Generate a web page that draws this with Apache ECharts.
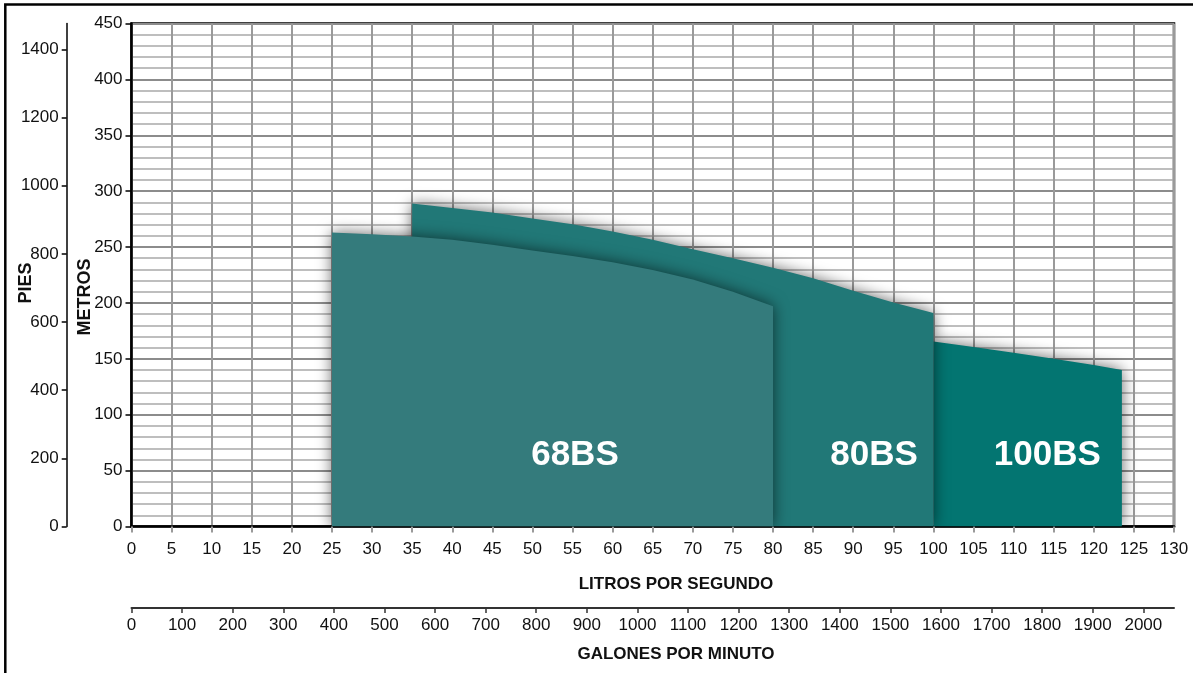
<!DOCTYPE html>
<html><head><meta charset="utf-8">
<script src="https://cdn.jsdelivr.net/npm/echarts@6/dist/echarts.min.js"></script>
<style>html,body{margin:0;padding:0;background:#fff}#c{width:1193px;height:673px}</style>
</head><body><div id="c"></div>
<script>
// ---- data ----
const flowLps68 = [25, 30, 35, 40, 45, 50, 55, 60, 65, 70, 75, 80];
const head68    = [263, 261.5, 259.5, 256.5, 252, 247, 242, 236.5, 229.5, 221, 210, 197];
const flowLps80 = [35, 40, 45, 50, 55, 60, 65, 70, 75, 80, 85, 90, 95, 100];
const head80    = [289, 285, 281, 275.5, 270.5, 264, 256.5, 248, 240, 231.5, 222, 211, 200.5, 191];
const flowLps100 = [100, 105, 110, 115, 120, 123.5];
const head100    = [165.5, 160.5, 155.5, 150, 144.5, 140];
const modelNames = ['68BS', '80BS', '100BS'];
const modelLabelFlow = [55.3, 92.6, 114.2];
const modelLabelHead = [64, 64, 64];
const feetTicks = [0, 200, 400, 600, 800, 1000, 1200, 1400];
const gpmTicks = [0,100,200,300,400,500,600,700,800,900,1000,1100,1200,1300,1400,1500,1600,1700,1800,1900,2000];
const M_TO_FT = 3.28084, LPS_TO_GPM = 15.8503;
const LPS_MAX = 130, M_MAX = 450;

const FONT = "'Liberation Sans',Arial,sans-serif";
const zip = (xs, ys) => xs.map((x, i) => [x, ys[i]]);
const plain = v => String(v);

const chart = echarts.init(document.getElementById('c'));
function areaSeries(name, xs, ys, color) {
  return {
    name, type: 'line', data: zip(xs, ys), showSymbol: false, smooth: false,
    lineStyle: { width: 0, opacity: 0 },
    areaStyle: { color, opacity: 1, shadowBlur: 15, shadowColor: 'rgba(0,0,0,0.6)' },
    silent: true, animation: false
  };
}
const tickLabel = { fontFamily: FONT, fontSize: 17, color: '#111', formatter: plain };
chart.setOption({
  animation: false,
  grid: { left: 131.5, right: 19, top: 23.5, bottom: 146.5, show: true, borderColor: '#000', borderWidth: 2.5, backgroundColor: 'transparent' },
  xAxis: [
    { type: 'value', min: 0, max: LPS_MAX, interval: 5, position: 'bottom',
      axisLine: { show: true, onZero: false, lineStyle: { color: '#000', width: 2.5 } },
      axisTick: { show: true, length: 6, lineStyle: { color: '#9a9a9a', width: 2 } },
      axisLabel: Object.assign({}, tickLabel, { margin: 14 }),
      splitLine: { show: true, lineStyle: { color: '#9a9a9a', width: 2 } } },
    { type: 'value', min: 0, max: LPS_MAX * LPS_TO_GPM, position: 'bottom', offset: 81.5,
      axisLine: { show: true, onZero: false, lineStyle: { color: '#333', width: 2 } },
      axisTick: { show: true, length: 5, customValues: gpmTicks, lineStyle: { color: '#333', width: 1.5 } },
      axisLabel: Object.assign({}, tickLabel, { customValues: gpmTicks, margin: 9 }),
      splitLine: { show: false } }
  ],
  yAxis: [
    { type: 'value', min: 0, max: M_MAX, interval: 50, position: 'left',
      axisLine: { show: true, onZero: false, lineStyle: { color: '#000', width: 2.5 } },
      axisTick: { show: true, length: 6, lineStyle: { color: '#000', width: 1.5 } },
      axisLabel: Object.assign({}, tickLabel, { margin: 9 }),
      splitLine: { show: true, lineStyle: { color: '#8c8c8c', width: 2.2 } },
      minorTick: { show: false, splitNumber: 5 },
      minorSplitLine: { show: true, lineStyle: { color: '#a8a8a8', width: 1.6 } } },
    { type: 'value', min: 0, max: M_MAX * M_TO_FT, position: 'left', offset: 64.8,
      axisLine: { show: true, onZero: false, lineStyle: { color: '#000', width: 1.5 } },
      axisTick: { show: true, length: 5, customValues: feetTicks, lineStyle: { color: '#000', width: 1.5 } },
      axisLabel: Object.assign({}, tickLabel, { customValues: feetTicks, margin: 8 }),
      splitLine: { show: false } }
  ],
  series: [
    areaSeries('100BS', flowLps100, head100, '#037571'),
    areaSeries('80BS', flowLps80, head80, '#217877'),
    areaSeries('68BS', flowLps68, head68, '#347b7c'),
    { type: 'scatter', symbolSize: 0, silent: true, z: 10, itemStyle: { opacity: 1 },
      data: modelNames.map((n, i) => ({ name: n, value: [modelLabelFlow[i], modelLabelHead[i]] })),
      label: { show: true, position: 'inside', formatter: p => p.name, color: '#ffffff', opacity: 1,
        fontFamily: FONT, fontWeight: 'bold', fontSize: 35 } }
  ],
  graphic: [
    { type: 'rect', shape: { x: 5.3, y: 4.5, width: 1300, height: 800 }, style: { fill: 'none', stroke: '#000', lineWidth: 2.5 }, silent: true },
    { type: 'text', x: 676, y: 584, style: { text: 'LITROS POR SEGUNDO', font: "bold 17px " + FONT, fill: '#111', align: 'center', verticalAlign: 'middle' } },
    { type: 'text', x: 676, y: 654, style: { text: 'GALONES POR MINUTO', font: "bold 17px " + FONT, fill: '#111', align: 'center', verticalAlign: 'middle' } },
    { type: 'text', x: 26, y: 283, rotation: Math.PI / 2, style: { text: 'PIES', font: "bold 18px " + FONT, fill: '#111', align: 'center', verticalAlign: 'middle' } },
    { type: 'text', x: 85, y: 297, rotation: Math.PI / 2, style: { text: 'METROS', font: "bold 18px " + FONT, fill: '#111', align: 'center', verticalAlign: 'middle' } }
  ]
});
</script></body></html>
